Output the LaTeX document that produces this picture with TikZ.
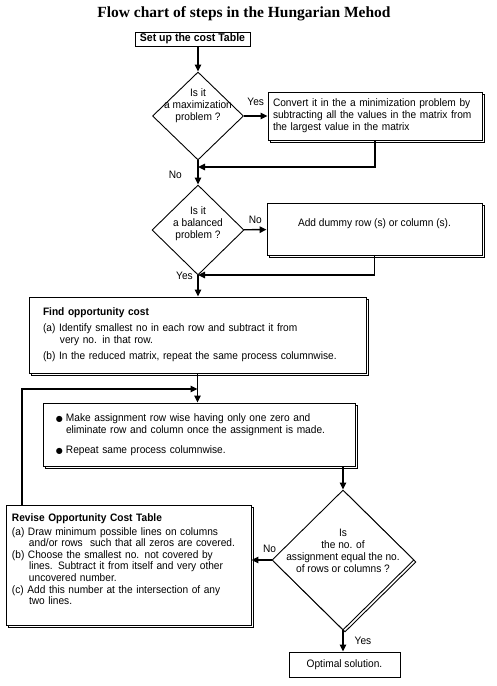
\documentclass[tikz,border=0pt]{standalone}
\usepackage{fontspec}
\setmainfont{Liberation Sans}[FakeStretch=0.94]
\newfontfamily\titulofont{Liberation Serif}
\newfontfamily\simbolos{DejaVu Sans}
\usetikzlibrary{shapes.geometric,arrows.meta,shadows}

\newcommand{\vineta}{{\simbolos\fontsize{8}{8}\selectfont ●}\hspace{3pt}}
\newcommand{\sangria}{\hspace*{17pt}}

\begin{document}
\begin{tikzpicture}[x=1pt,y=-1pt,
    texto/.style={font=\fontsize{10.8}{12}\selectfont},
    caja/.style={draw,fill=white,line width=0.9pt,inner sep=0pt,texto},
    sombra/.style={copy shadow={shadow xshift=2pt,shadow yshift=-2pt}},
    rombo/.style={draw,diamond,fill=white,line width=0.9pt,inner sep=0pt},
    flecha/.style={line width=1.4pt,-{Triangle[length=7pt,width=6.5pt]}},
    etiqueta/.style={texto,inner sep=1pt}]
  \useasboundingbox (0,0) rectangle (497,686);

  % Titulo
  \node[font=\titulofont\bfseries\fontsize{15.5}{18}\selectfont] (titulo) at (244,14)
    {Flow chart of steps in the Hungarian Mehod};

  % Cajas
  \node[caja,font=\bfseries\fontsize{11.2}{12}\selectfont,minimum width=115pt,minimum height=14pt]
    (inicio) at (192.5,39) {Set up the cost Table};
  \node[caja,sombra,minimum width=214pt,minimum height=48pt,text width=204pt,align=left]
    (convertir) at (375,116)
    {Convert it in the a minimization problem by\\
     subtracting all the values in the matrix from\\
     the largest value in the matrix};
  \node[caja,sombra,minimum width=215pt,minimum height=52pt,align=center] (dummy) at (374.5,229)
    {Add dummy row (s) or column (s).\\ \mbox{}};
  \node[caja,sombra,minimum width=337pt,minimum height=76pt,text width=309pt,align=left]
    (costo) at (197.5,335)
    {\textbf{Find opportunity cost}\\[4pt]
     (a) Identify smallest no in each row and subtract it from\\
     \sangria very no. in that row.\\[4pt]
     (b) In the reduced matrix, repeat the same process columnwise.};
  \node[caja,sombra,minimum width=312pt,minimum height=63pt,text width=286pt,align=left]
    (asignar) at (199,434.5)
    {\vineta Make assignment row wise having only one zero and\\
     \hspace*{10pt}eliminate row and column once the assignment is made.\\[8pt]
     \vineta Repeat same process columnwise.};
  \node[caja,sombra,minimum width=245pt,minimum height=120pt,text width=233pt,align=left,
    font=\fontsize{10.8}{11.6}\selectfont]
    (revisar) at (128.5,565)
    {\textbf{Revise Opportunity Cost Table}\\[2pt]
     (a) Draw minimum possible lines on columns\\
     \sangria and/or rows\ \ such that all zeros are covered.\\
     (b) Choose the smallest no. not covered by\\
     \sangria lines. Subtract it from itself and very other\\
     \sangria uncovered number.\\
     (c) Add this number at the intersection of any\\
     \sangria two lines.\\ \mbox{}};
  \node[caja,minimum width=111pt,minimum height=25pt] (optimo) at (344.5,664.5)
    {Optimal solution.};

  % Rombos
  \node[rombo,minimum width=91pt,minimum height=88pt] (maxq) at (198,116) {};
  \node[texto,align=center] (maxqtxt) at (198,106) {Is it\\ a maximization\\ problem ?};
  \node[rombo,minimum width=92pt,minimum height=90pt] (balq) at (198,230) {};
  \node[texto,align=center] (balqtxt) at (198,224) {Is it\\ a balanced\\ problem ?};
  \node[rombo,sombra,minimum width=142pt,minimum height=140pt] (asigq) at (343,560) {};
  \node[texto,align=center] (asigqtxt) at (343,551)
    {Is\\ the no. of\\ assignment equal the no.\\ of rows or columns ?};

  % Puntos de union
  \coordinate (j1) at (198,167);
  \coordinate (j2) at (198,275);
  \coordinate (j3) at (197.5,389);
  \coordinate (j4) at (22,389);

  % Flechas
  \draw[flecha] (inicio.south -| maxq.north) -- (maxq.north);
  \draw[flecha] (maxq) -- (convertir) node[etiqueta,midway,above=9pt] (si1) {Yes};
  \draw[flecha] (convertir.south) |- (j1);
  \node[etiqueta,anchor=east] (no1) at (183,175) {No};
  \draw[flecha] (maxq.south) -- (balq.north);
  \draw[flecha] (balq) -- (dummy) node[etiqueta,midway,above=4pt] (no2) {No};
  \draw[flecha] (dummy.south) |- (j2);
  \node[etiqueta,anchor=east] (si2) at (194,276) {Yes};
  \draw[flecha] (balq.south) -- (balq.south |- costo.north);
  \draw[flecha] (costo.south) -- (costo.south |- asignar.north);
  \draw[flecha] (revisar.north -| j4) -- (j4) -- (j3);
  \draw[flecha] (asignar.south -| asigq.north) -- (asigq.north);
  \draw[flecha] (asigq.west) -- (asigq.west -| revisar.east)
    node[etiqueta,pos=0.1,above=6pt] (no3) {No};
  \draw[flecha] (asigq.south) -- (asigq.south |- optimo.north)
    node[etiqueta,midway,right=10pt] (si3) {Yes};

\end{tikzpicture}
\end{document}
